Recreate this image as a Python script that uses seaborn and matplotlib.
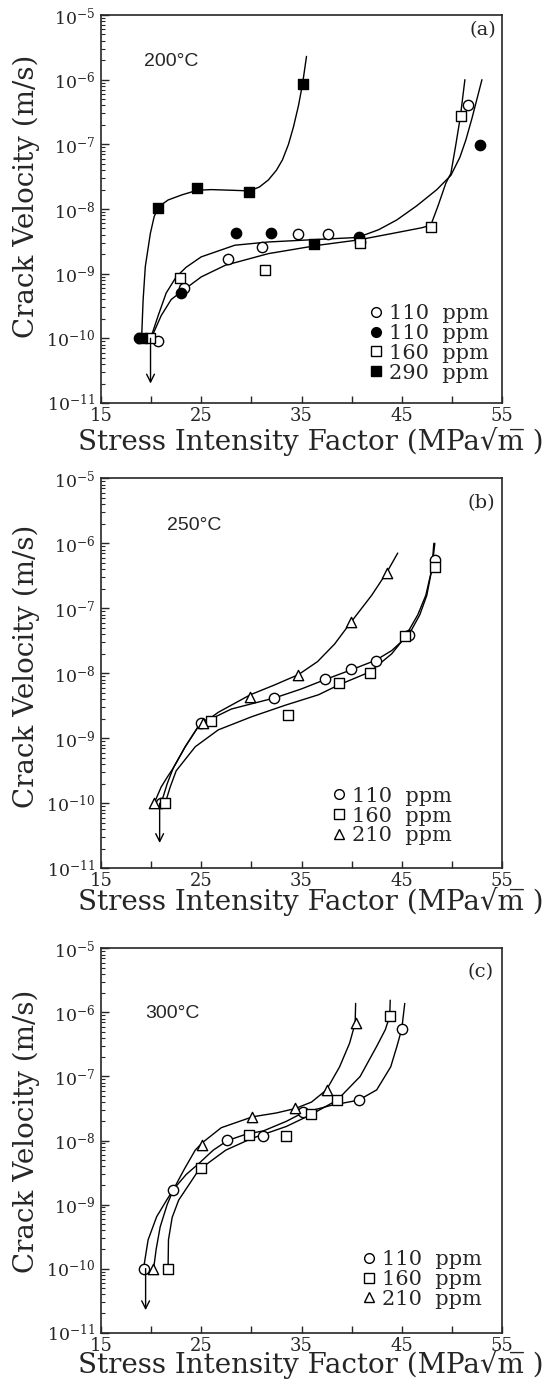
import numpy as np
import pandas as pd
import seaborn as sns
import matplotlib
matplotlib.use("Agg")
import matplotlib.pyplot as plt
from matplotlib.lines import Line2D
from matplotlib.ticker import LogLocator, FixedLocator, NullFormatter, LogFormatterMathtext

sns.set_style("ticks")
plt.rcParams["font.family"] = ["DejaVu Serif"]
plt.rcParams["mathtext.fontset"] = "dejavuserif"

# ---------------- Panel (a) 200 C ----------------
a_open_circ_k = [20.7, 23.3, 27.7, 31.1, 34.7, 37.6, 40.8, 51.6]
a_open_circ_v = [9e-11, 6e-10, 1.7e-9, 2.6e-9, 4.1e-9, 4.1e-9, 3.1e-9, 4.0e-7]
a_fill_circ_k = [18.8, 23.0, 28.5, 32.0, 40.7, 52.8]
a_fill_circ_v = [1.0e-10, 5.0e-10, 4.2e-9, 4.2e-9, 3.7e-9, 9.7e-8]
a_open_sq_k = [19.9, 22.9, 31.4, 40.8, 47.9, 50.9]
a_open_sq_v = [1.0e-10, 8.5e-10, 1.15e-9, 3.0e-9, 5.3e-9, 2.7e-7]
a_fill_sq_k = [19.05, 20.7, 24.6, 29.8, 35.1, 36.2]
a_fill_sq_v = [1.0e-10, 1.05e-8, 2.1e-8, 1.8e-8, 8.5e-7, 2.9e-9]

# fitted curves (log10 of velocity)
a_curve290_k = [19.05, 19.2, 19.42, 19.92, 20.3, 20.7, 21.7, 23.1, 24.6, 26.0, 28.0, 29.8,
                30.8, 31.7, 32.5, 33.1, 33.7, 34.2, 34.7, 35.1, 35.5]
a_curve290_lv = [-10.0, -9.41, -8.89, -8.38, -8.12, -7.97, -7.86, -7.78, -7.71, -7.70, -7.71, -7.72,
                 -7.66, -7.55, -7.40, -7.24, -7.00, -6.73, -6.40, -6.07, -5.64]
a_curve110_k = [19.95, 20.7, 21.5, 22.5, 23.5, 25.0, 28.35, 31.7, 36.7, 40.6, 42.7, 44.5,
                46.5, 48.5, 49.9, 50.8, 51.4, 52.0, 52.5, 53.0]
a_curve110_lv = [-10.0, -9.65, -9.3, -9.05, -8.9, -8.74, -8.56, -8.51, -8.47, -8.44, -8.32, -8.17,
                 -7.95, -7.70, -7.48, -7.20, -6.93, -6.60, -6.30, -6.0]
a_curve160_k = [20.0, 21.0, 22.0, 23.0, 25.0, 27.4, 31.7, 36.7, 40.6, 44.0, 47.0, 47.9,
                48.6, 49.4, 49.9, 50.4, 50.85, 51.1, 51.3]
a_curve160_lv = [-10.0, -9.65, -9.4, -9.28, -9.05, -8.87, -8.69, -8.56, -8.48, -8.38, -8.29, -8.25,
                 -7.96, -7.60, -7.45, -7.0, -6.57, -6.25, -6.0]

# ---------------- Panel (b) 250 C ----------------
b_circ_k = [21.0, 25.0, 32.3, 37.3, 39.9, 42.4, 45.7, 48.3]
b_circ_v = [1e-10, 1.75e-9, 4.2e-9, 8.1e-9, 1.15e-8, 1.55e-8, 3.9e-8, 5.5e-7]
b_sq_k = [21.4, 26.0, 33.7, 38.7, 41.8, 45.3, 48.3]
b_sq_v = [1e-10, 1.85e-9, 2.3e-9, 7.1e-9, 1.0e-8, 3.7e-8, 4.3e-7]
b_tri_k = [20.3, 25.2, 29.9, 34.7, 39.9, 43.5]
b_tri_v = [1e-10, 1.7e-9, 4.3e-9, 9.3e-9, 6.2e-8, 3.5e-7]

b_curve_tri_k = [20.3, 21.0, 21.6, 22.2, 23.4, 24.7, 26.7, 29.9, 32.3, 34.7, 36.6, 38.3,
                 39.9, 41.0, 42.0, 43.5, 44.6]
b_curve_tri_lv = [-10.0, -9.75, -9.6, -9.46, -9.13, -8.82, -8.6, -8.33, -8.18, -8.02, -7.82, -7.55,
                  -7.22, -7.0, -6.8, -6.45, -6.15]
b_curve_circ_k = [21.0, 21.6, 22.2, 23.4, 24.7, 26.0, 28.0, 30.0, 32.3, 35.0, 37.3, 39.9,
                  42.4, 44.0, 45.7, 46.8, 47.5, 48.0, 48.2]
b_curve_circ_lv = [-10.0, -9.7, -9.46, -9.13, -8.82, -8.7, -8.55, -8.47, -8.38, -8.24, -8.1, -7.95,
                   -7.8, -7.65, -7.41, -7.1, -6.8, -6.4, -6.0]
b_curve_sq_k = [21.4, 21.9, 22.5, 24.4, 26.7, 30.0, 33.4, 36.7, 38.7, 41.8, 44.0, 45.3,
                46.6, 47.4, 48.0, 48.3]
b_curve_sq_lv = [-10.0, -9.75, -9.5, -9.13, -8.87, -8.67, -8.49, -8.33, -8.18, -7.98, -7.7, -7.45,
                 -7.1, -6.8, -6.4, -6.0]

# ---------------- Panel (c) 300 C ----------------
c_circ_k = [19.3, 22.2, 27.6, 31.2, 35.1, 40.7, 45.0]
c_circ_v = [1e-10, 1.7e-9, 1.02e-8, 1.17e-8, 2.8e-8, 4.3e-8, 5.5e-7]
c_sq_k = [21.7, 25.0, 29.8, 33.5, 35.9, 38.5, 43.8]
c_sq_v = [1e-10, 3.7e-9, 1.23e-8, 1.17e-8, 2.6e-8, 4.3e-8, 8.7e-7]
c_tri_k = [20.2, 25.1, 30.1, 34.4, 37.5, 40.4]
c_tri_v = [1e-10, 8.5e-9, 2.3e-8, 3.2e-8, 6.2e-8, 6.8e-7]

c_curve_tri_k = [19.24, 19.7, 20.55, 21.55, 22.24, 23.3, 24.4, 25.14, 27.0, 30.12, 32.5, 34.4,
                 36.0, 37.49, 38.8, 39.8, 40.35, 40.4]
c_curve_tri_lv = [-10.0, -9.55, -9.19, -8.93, -8.76, -8.45, -8.15, -8.03, -7.8, -7.63, -7.57, -7.5,
                  -7.4, -7.21, -6.85, -6.48, -6.17, -5.86]
c_curve_circ_k = [20.25, 20.5, 20.9, 21.6, 22.24, 23.5, 24.75, 26.2, 27.63, 29.5, 31.2, 33.5,
                  35.1, 38.0, 40.7, 42.5, 43.9, 44.5, 45.0, 45.3]
c_curve_circ_lv = [-10.0, -9.7, -9.35, -9.0, -8.76, -8.53, -8.36, -8.15, -8.0, -7.9, -7.85, -7.7,
                   -7.57, -7.45, -7.37, -7.21, -6.85, -6.54, -6.26, -5.86]
c_curve_sq_k = [21.69, 21.73, 22.1, 22.75, 24.75, 27.45, 30.0, 33.5, 35.9, 38.56, 40.85, 42.5,
                43.36, 43.8, 43.85]
c_curve_sq_lv = [-10.0, -9.55, -9.2, -8.93, -8.46, -8.15, -7.97, -7.78, -7.6, -7.37, -7.0, -6.53,
                 -6.27, -6.06, -5.81]

# arrows (K, start velocity, end velocity)
arrow_k = [19.94, 20.85, 19.45]
arrow_start = [1.0e-10, 1.0e-10, 1.0e-10]
arrow_end = [2.0e-11, 2.45e-11, 2.25e-11]

temps = ["200°C", "250°C", "300°C"]
panel_tags = ["(a)", "(b)", "(c)"]
legend_labels_a = ["110  ppm", "110  ppm", "160  ppm", "290  ppm"]
legend_labels_bc = ["110  ppm", "160  ppm", "210  ppm"]
x_ticks = [15, 25, 35, 45, 55]
x_minor = [20, 30, 40, 50]
x_label = "Stress Intensity Factor (MPa\u221am\u0305 )"
y_label = "Crack Velocity (m/s)"

# ---------------- figure ----------------
W, H = 556, 1389
fig = plt.figure(figsize=(W / 100, H / 100), dpi=100)

def ax_rect(top_px, bot_px, left_px=101, right_px=502):
    return [left_px / W, 1 - bot_px / H, (right_px - left_px) / W, (bot_px - top_px) / H]

axes = [fig.add_axes(ax_rect(15, 403)),
        fig.add_axes(ax_rect(478.3, 868.3)),
        fig.add_axes(ax_rect(948.3, 1332.7))]

MS = 55
LW = 1.0

def pts(ax, k, v, marker, filled):
    sns.scatterplot(x=k, y=v, ax=ax, marker=marker, s=MS,
                    color=("black" if filled else "white"), edgecolor="black",
                    linewidth=1.0, zorder=3, legend=False)

def curve(ax, k, lv):
    sns.lineplot(x=k, y=10 ** np.array(lv), ax=ax, sort=False, estimator=None,
                 color="black", lw=LW, zorder=2, legend=False)

# panel a
ax = axes[0]
ax.set_yscale("log")
curve(ax, a_curve290_k, a_curve290_lv)
curve(ax, a_curve110_k, a_curve110_lv)
curve(ax, a_curve160_k, a_curve160_lv)
pts(ax, a_open_circ_k, a_open_circ_v, "o", False)
pts(ax, a_fill_circ_k, a_fill_circ_v, "o", True)
pts(ax, a_open_sq_k, a_open_sq_v, "s", False)
pts(ax, a_fill_sq_k, a_fill_sq_v, "s", True)

# panel b
ax = axes[1]
ax.set_yscale("log")
curve(ax, b_curve_tri_k, b_curve_tri_lv)
curve(ax, b_curve_circ_k, b_curve_circ_lv)
curve(ax, b_curve_sq_k, b_curve_sq_lv)
pts(ax, b_circ_k, b_circ_v, "o", False)
pts(ax, b_sq_k, b_sq_v, "s", False)
pts(ax, b_tri_k, b_tri_v, "^", False)

# panel c
ax = axes[2]
ax.set_yscale("log")
curve(ax, c_curve_tri_k, c_curve_tri_lv)
curve(ax, c_curve_circ_k, c_curve_circ_lv)
curve(ax, c_curve_sq_k, c_curve_sq_lv)
pts(ax, c_circ_k, c_circ_v, "o", False)
pts(ax, c_sq_k, c_sq_v, "s", False)
pts(ax, c_tri_k, c_tri_v, "^", False)

def handle(marker, filled):
    return Line2D([], [], ls="none", marker=marker, markersize=7,
                  markerfacecolor=("black" if filled else "white"),
                  markeredgecolor="black", markeredgewidth=1.0)

legend_handles = [
    [handle("o", False), handle("o", True), handle("s", False), handle("s", True)],
    [handle("o", False), handle("s", False), handle("^", False)],
    [handle("o", False), handle("s", False), handle("^", False)],
]
legend_labels = [legend_labels_a, legend_labels_bc, legend_labels_bc]
legend_anchor = [(0.672, 0.255), (0.580, 0.209), (0.655, 0.215)]
temp_pos = [(0.106, 0.880), (0.164, 0.878), (0.111, 0.831)]
tag_pos = [(0.986, 0.961), (0.982, 0.936), (0.978, 0.939)]
ylabel_y = [0.533, 0.519, 0.523]
xlabel_y = [-0.099, -0.085, -0.083]

for i, ax in enumerate(axes):
    ax.set_xlim(15, 55)
    ax.set_ylim(1e-11, 1e-5)
    ax.xaxis.set_major_locator(FixedLocator(x_ticks))
    ax.xaxis.set_minor_locator(FixedLocator(x_minor))
    ax.yaxis.set_major_locator(LogLocator(base=10, numticks=20))
    ax.yaxis.set_minor_locator(LogLocator(base=10, subs=np.arange(2, 10), numticks=20))
    ax.yaxis.set_minor_formatter(NullFormatter())
    ax.yaxis.set_major_formatter(LogFormatterMathtext())
    ax.tick_params(axis="both", which="both", direction="in", top=False, right=False)
    ax.tick_params(axis="y", which="major", length=6, width=1, labelsize=12.5, pad=4)
    ax.tick_params(axis="y", which="minor", length=3, width=0.8)
    ax.tick_params(axis="x", which="major", length=5, width=1, labelsize=13, pad=3)
    ax.tick_params(axis="x", which="minor", length=5, width=1)
    for sp in ax.spines.values():
        sp.set_linewidth(1.2)
        sp.set_visible(True)
    ax.set_xlabel(x_label, fontsize=20)
    ax.set_ylabel(y_label, fontsize=20)
    ax.xaxis.set_label_coords(0.524, xlabel_y[i])
    ax.xaxis.label.set_va("center")
    ax.yaxis.set_label_coords(-0.186, ylabel_y[i])
    ax.yaxis.label.set_va("center")

    ax.annotate("", xy=(arrow_k[i], arrow_end[i]), xytext=(arrow_k[i], arrow_start[i]),
                arrowprops=dict(arrowstyle="->", lw=1.0, color="black", mutation_scale=14,
                                shrinkA=0, shrinkB=0))

    ax.text(temp_pos[i][0], temp_pos[i][1], temps[i], transform=ax.transAxes,
            fontsize=14, family=["Liberation Sans", "DejaVu Sans"], ha="left", va="center")
    ax.text(tag_pos[i][0], tag_pos[i][1], panel_tags[i], transform=ax.transAxes,
            fontsize=14, ha="right", va="center")

    ax.legend(legend_handles[i], legend_labels[i], loc="upper left",
              bbox_to_anchor=legend_anchor[i], frameon=False, fontsize=15,
              handlelength=0.5, handletextpad=0.4, labelspacing=0.04,
              borderpad=0, borderaxespad=0)

fig.savefig("out.png", dpi=100)
